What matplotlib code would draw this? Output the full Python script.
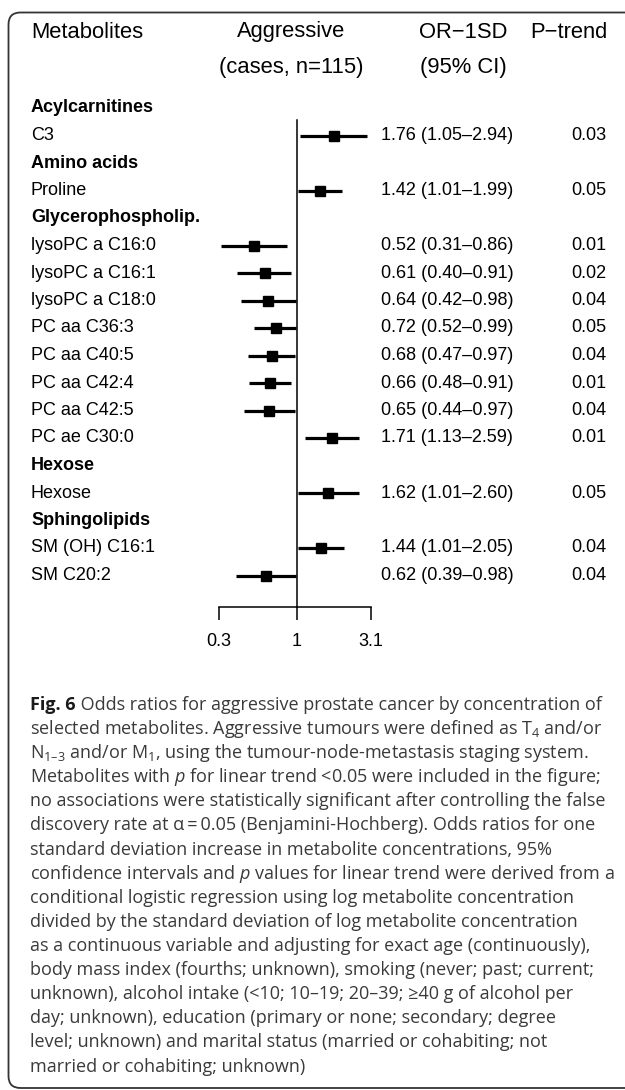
import numpy as np
import matplotlib
matplotlib.use("Agg")
import matplotlib.pyplot as plt
import matplotlib.transforms as mtransforms
from matplotlib.patches import FancyBboxPatch

plt.rcParams['font.family'] = ['Liberation Sans', 'DejaVu Sans']
plt.rcParams['mathtext.fontset'] = 'custom'
plt.rcParams['mathtext.rm'] = 'Open Sans'
plt.rcParams['mathtext.it'] = 'Open Sans:italic'
plt.rcParams['mathtext.bf'] = 'Open Sans:bold'

# data
groups = ['Acylcarnitines', 'Amino acids', 'Glycerophospholip.', 'Hexose', 'Sphingolipids']
metabolites = ['C3', 'Proline', 'lysoPC a C16:0', 'lysoPC a C16:1', 'lysoPC a C18:0',
               'PC aa C36:3', 'PC aa C40:5', 'PC aa C42:4', 'PC aa C42:5', 'PC ae C30:0',
               'Hexose', 'SM (OH) C16:1', 'SM C20:2']
group_of = [0, 1, 2, 2, 2, 2, 2, 2, 2, 2, 3, 4, 4]
odds = [1.76, 1.42, 0.52, 0.61, 0.64, 0.72, 0.68, 0.66, 0.65, 1.71, 1.62, 1.44, 0.62]
ci_low = [1.05, 1.01, 0.31, 0.40, 0.42, 0.52, 0.47, 0.48, 0.44, 1.13, 1.01, 1.01, 0.39]
ci_high = [2.94, 1.99, 0.86, 0.91, 0.98, 0.99, 0.97, 0.91, 0.97, 2.59, 2.60, 2.05, 0.98]
p_trend = [0.03, 0.05, 0.01, 0.02, 0.04, 0.05, 0.04, 0.01, 0.04, 0.01, 0.05, 0.04, 0.04]
x_ticks = [0.3, 1, 3.1]
x_ticklabels = ['0.3', '1', '3.1']

caption_head = "Fig. 6"
caption = [
    " Odds ratios for aggressive prostate cancer by concentration of",
    r"selected metabolites. Aggressive tumours were defined as T$_4$ and/or",
    "N$_{1\u20133}$ and/or M$_1$, using the tumour-node-metastasis staging system.",
    r"Metabolites with $p$ for linear trend <0.05 were included in the figure;",
    "no associations were statistically significant after controlling the false",
    "discovery rate at \u03b1\u2009=\u20090.05 (Benjamini-Hochberg). Odds ratios for one",
    "standard deviation increase in metabolite concentrations, 95%",
    r"confidence intervals and $p$ values for linear trend were derived from a",
    "conditional logistic regression using log metabolite concentration",
    "divided by the standard deviation of log metabolite concentration",
    "as a continuous variable and adjusting for exact age (continuously),",
    "body mass index (fourths; unknown), smoking (never; past; current;",
    "unknown), alcohol intake (<10; 10\u201319; 20\u201339; \u226540 g of alcohol per",
    "day; unknown), education (primary or none; secondary; degree",
    "level; unknown) and marital status (married or cohabiting; not",
    "married or cohabiting; unknown)",
]

W, H = 625, 1090
fig = plt.figure(figsize=(W / 100, H / 100), dpi=100)


def fx(x):
    return x / W


def fy(y):
    return 1 - y / H


# rounded frame around the figure panel (right / bottom run off the page)
frame = FancyBboxPatch((8.5, H - 1088), 700, 1088 - 12.5,
                       boxstyle="round,pad=0,rounding_size=12",
                       transform=mtransforms.IdentityTransform(),
                       facecolor='none', edgecolor='#333333', lw=1.3)
fig.add_artist(frame)

# build the row list: group headers followed by their metabolites
rows = []
for g, name in enumerate(groups):
    rows.append((name, True, None))
    for i, gi in enumerate(group_of):
        if gi == g:
            rows.append((metabolites[i], False, i))

row0, step = 108, 27.5
ax_top, ax_bot = 95, 607
x_one = 297
scale = 65
x_left = x_one + scale * np.log(0.3)
x_right = x_one + scale * np.log(3.1)

ax = fig.add_axes([fx(x_left), fy(ax_bot), (x_right - x_left) / W, (ax_bot - ax_top) / H])
ax.set_xscale('log')
ax.set_xlim(0.3, 3.1)
yb = (ax_bot - row0) / step
yt = (ax_top - row0) / step
ax.set_ylim(yb, yt)
for s in ['top', 'right', 'left']:
    ax.spines[s].set_visible(False)
ax.spines['bottom'].set_linewidth(1.1)
ax.set_yticks([])
ax.set_xticks(x_ticks)
ax.set_xticklabels(x_ticklabels)
ax.minorticks_off()
ax.tick_params(axis='x', direction='out', length=9, width=1.1, pad=10, labelsize=13)
ax.patch.set_visible(False)

ax.plot([1, 1], [(120 - row0) / step, yb], color='black', lw=1.1, clip_on=False)

fs = 13
tr = mtransforms.blended_transform_factory(fig.transFigure, ax.transData)
for r, (label, is_group, i) in enumerate(rows):
    fig.text(fx(31), r, label, transform=tr, va='center', ha='left', fontsize=fs,
             fontweight='bold' if is_group else 'normal')
    if is_group:
        continue
    ax.plot([ci_low[i], ci_high[i]], [r, r], color='black', lw=2.3, solid_capstyle='butt')
    ax.plot(odds[i], r, marker='s', color='black', ms=7.5)
    fig.text(fx(381), r, f"{odds[i]:.2f} ({ci_low[i]:.2f}\u2013{ci_high[i]:.2f})",
             transform=tr, va='center', ha='left', fontsize=fs)
    fig.text(fx(606), r, f"{p_trend[i]:.2f}", transform=tr, va='center', ha='right', fontsize=fs)

# column headers
hs = 15.8
fig.text(fx(31), fy(32), 'Metabolites', ha='left', va='center', fontsize=hs)
fig.text(fx(291), fy(32), 'Aggressive', ha='center', va='center', fontsize=hs)
fig.text(fx(291), fy(67), '(cases, n=115)', ha='center', va='center', fontsize=hs)
fig.text(fx(463), fy(32), 'OR\u22121SD', ha='center', va='center', fontsize=hs)
fig.text(fx(463), fy(67), '(95% CI)', ha='center', va='center', fontsize=hs)
fig.text(fx(607), fy(32), 'P\u2212trend', ha='right', va='center', fontsize=hs)

# caption
cs = 12.95
ccol = '#3a3a3a'
head = fig.text(fx(30), fy(705), caption_head, ha='left', va='center', fontsize=cs,
                color='#1a1a1a', family='Open Sans', fontweight='bold')
fig.canvas.draw()
bb = head.get_window_extent()
for k, line in enumerate(caption):
    x0 = bb.x1 / W if k == 0 else fx(30)
    fig.text(x0, fy(705 + 24.1 * k), line, ha='left', va='center', fontsize=cs,
             color=ccol, family='Open Sans')

fig.savefig('out.png', dpi=100)
